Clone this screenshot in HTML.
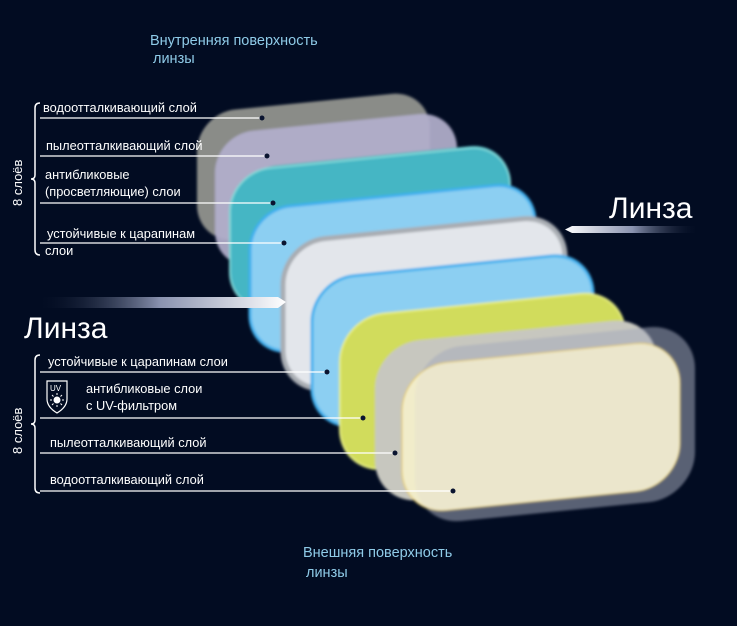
<!DOCTYPE html>
<html><head><meta charset="utf-8"><style>
html,body{margin:0;padding:0;background:#020c22;}
svg{display:block}
text{font-family:"Liberation Sans","DejaVu Sans",sans-serif;}
</style></head><body>
<svg width="737" height="626" viewBox="0 0 737 626" xmlns="http://www.w3.org/2000/svg">
<defs>
<filter id="soft" x="-10%" y="-10%" width="120%" height="120%"><feGaussianBlur stdDeviation="1.2"/></filter>
<linearGradient id="arL" x1="0" x2="1"><stop offset="0" stop-color="#020c22" stop-opacity="0"/><stop offset="0.5" stop-color="#8a93b0"/><stop offset="1" stop-color="#ffffff"/></linearGradient>
<linearGradient id="arR" x1="0" x2="1"><stop offset="0" stop-color="#ffffff"/><stop offset="0.5" stop-color="#8a93b0"/><stop offset="1" stop-color="#020c22" stop-opacity="0"/></linearGradient>
</defs>
<rect width="737" height="626" fill="#020c22"/>

<g transform="skewY(-5.7)" filter="url(#soft)">
  <rect x="197" y="133" width="233" height="130" rx="38" fill="#8a8c88"/>
  <rect x="215" y="156" width="242" height="135" rx="38" fill="#b2aecb" opacity="0.93"/>
  <rect x="236" y="193" width="274" height="142" rx="40" fill="#3aa7b6"/>
  <rect x="230" y="195" width="280" height="140" rx="40" fill="#44b6c4" stroke="#7fd8d8" stroke-width="2"/>
  <rect x="250" y="235" width="285" height="145" rx="40" fill="#8ccff2" stroke="#3fb0ee" stroke-width="3"/>
  <rect x="283" y="271" width="282" height="150" rx="42" fill="#e3e6eb" stroke="#a9adb3" stroke-width="5"/>
  <rect x="312" y="311" width="281" height="150" rx="42" fill="#8ccff2" stroke="#3fb0ee" stroke-width="3"/>
  <rect x="340" y="352" width="285" height="155" rx="44" fill="#d1dc5c" stroke="#e6ee80" stroke-width="2"/>
  <rect x="375" y="382" width="282" height="160" rx="44" fill="#c7c7bf"/>
  <rect x="415" y="392" width="280" height="175" rx="46" fill="#9aa0b2" opacity="0.45"/>
  <rect x="402" y="407" width="278" height="148" rx="44" fill="#f1ecca" stroke="#e8c840" stroke-width="1"/>
  <rect x="415" y="392" width="280" height="175" rx="46" fill="#c8ccd8" opacity="0.15"/>
</g>

<!-- arrows -->
<polygon points="35,297 278,297 286,302 278,308 35,308" fill="url(#arL)"/>
<polygon points="572,226 700,226 700,233 572,233 565,229.5" fill="url(#arR)"/>
<text x="24" y="338" font-size="30" fill="#fff">Линза</text>
<text x="609" y="218" font-size="30" fill="#fff">Линза</text>

<text x="150" y="45" font-size="14.5" fill="#8fcbe8">Внутренняя поверхность</text>
<text x="153" y="63" font-size="14.5" fill="#8fcbe8">линзы</text>
<text x="303" y="557" font-size="14.5" fill="#8fcbe8">Внешняя поверхность</text>
<text x="306" y="577" font-size="14.5" fill="#8fcbe8">линзы</text>

<!-- braces -->
<g fill="none" stroke="#fff" stroke-width="1.5">
<path d="M40,103 Q35,103 35,108 L35,175 Q35,179 31,179 Q35,179 35,183 L35,250 Q35,255 40,255"/>
<path d="M40,355 Q35,355 35,360 L35,420 Q35,424 31,424 Q35,424 35,428 L35,488 Q35,493 40,493"/>
</g>
<text transform="translate(22,206) rotate(-90)" font-size="13" fill="#fff">8 слоёв</text>
<text transform="translate(22,454) rotate(-90)" font-size="13" fill="#fff">8 слоёв</text>

<g font-size="12.8" fill="#fff">
<text x="43" y="112">водоотталкивающий слой</text>
<text x="46" y="150">пылеотталкивающий слой</text>
<text x="45" y="179">антибликовые</text>
<text x="45" y="196">(просветляющие) слои</text>
<text x="47" y="238">устойчивые к царапинам</text>
<text x="45" y="255">слои</text>
<text x="48" y="366">устойчивые к царапинам слои</text>
<text x="86" y="393">антибликовые слои</text>
<text x="86" y="410">с UV-фильтром</text>
<text x="50" y="447">пылеотталкивающий слой</text>
<text x="50" y="484">водоотталкивающий слой</text>
</g>

<g stroke="#fff" stroke-width="1.2">
<line x1="40" y1="118" x2="262" y2="118"/>
<line x1="40" y1="156" x2="267" y2="156"/>
<line x1="40" y1="203" x2="273" y2="203"/>
<line x1="40" y1="243" x2="284" y2="243"/>
<line x1="40" y1="372" x2="327" y2="372"/>
<line x1="40" y1="418" x2="363" y2="418"/>
<line x1="40" y1="453" x2="395" y2="453"/>
<line x1="40" y1="491" x2="453" y2="491"/>
</g>
<g fill="#0a1430">
<circle cx="262" cy="118" r="2.5"/><circle cx="267" cy="156" r="2.5"/>
<circle cx="273" cy="203" r="2.5"/><circle cx="284" cy="243" r="2.5"/>
<circle cx="327" cy="372" r="2.5"/><circle cx="363" cy="418" r="2.5"/>
<circle cx="395" cy="453" r="2.5"/><circle cx="453" cy="491" r="2.5"/>
</g>

<!-- UV shield -->
<path d="M47,381 L67,381 L67,399 Q67,407 57,413 Q47,407 47,399 Z" fill="none" stroke="#fff" stroke-width="1.2"/>
<text x="50" y="391" font-size="8" fill="#fff">UV</text>
<circle cx="57" cy="400" r="3.5" fill="#fff"/>
<g stroke="#fff" stroke-width="1">
<line x1="57" y1="393" x2="57" y2="395"/><line x1="57" y1="405" x2="57" y2="407"/>
<line x1="50" y1="400" x2="52" y2="400"/><line x1="62" y1="400" x2="64" y2="400"/>
<line x1="52" y1="395" x2="53.5" y2="396.5"/><line x1="60.5" y1="403.5" x2="62" y2="405"/>
<line x1="62" y1="395" x2="60.5" y2="396.5"/><line x1="53.5" y1="403.5" x2="52" y2="405"/>
</g>
</svg>
</body></html>
